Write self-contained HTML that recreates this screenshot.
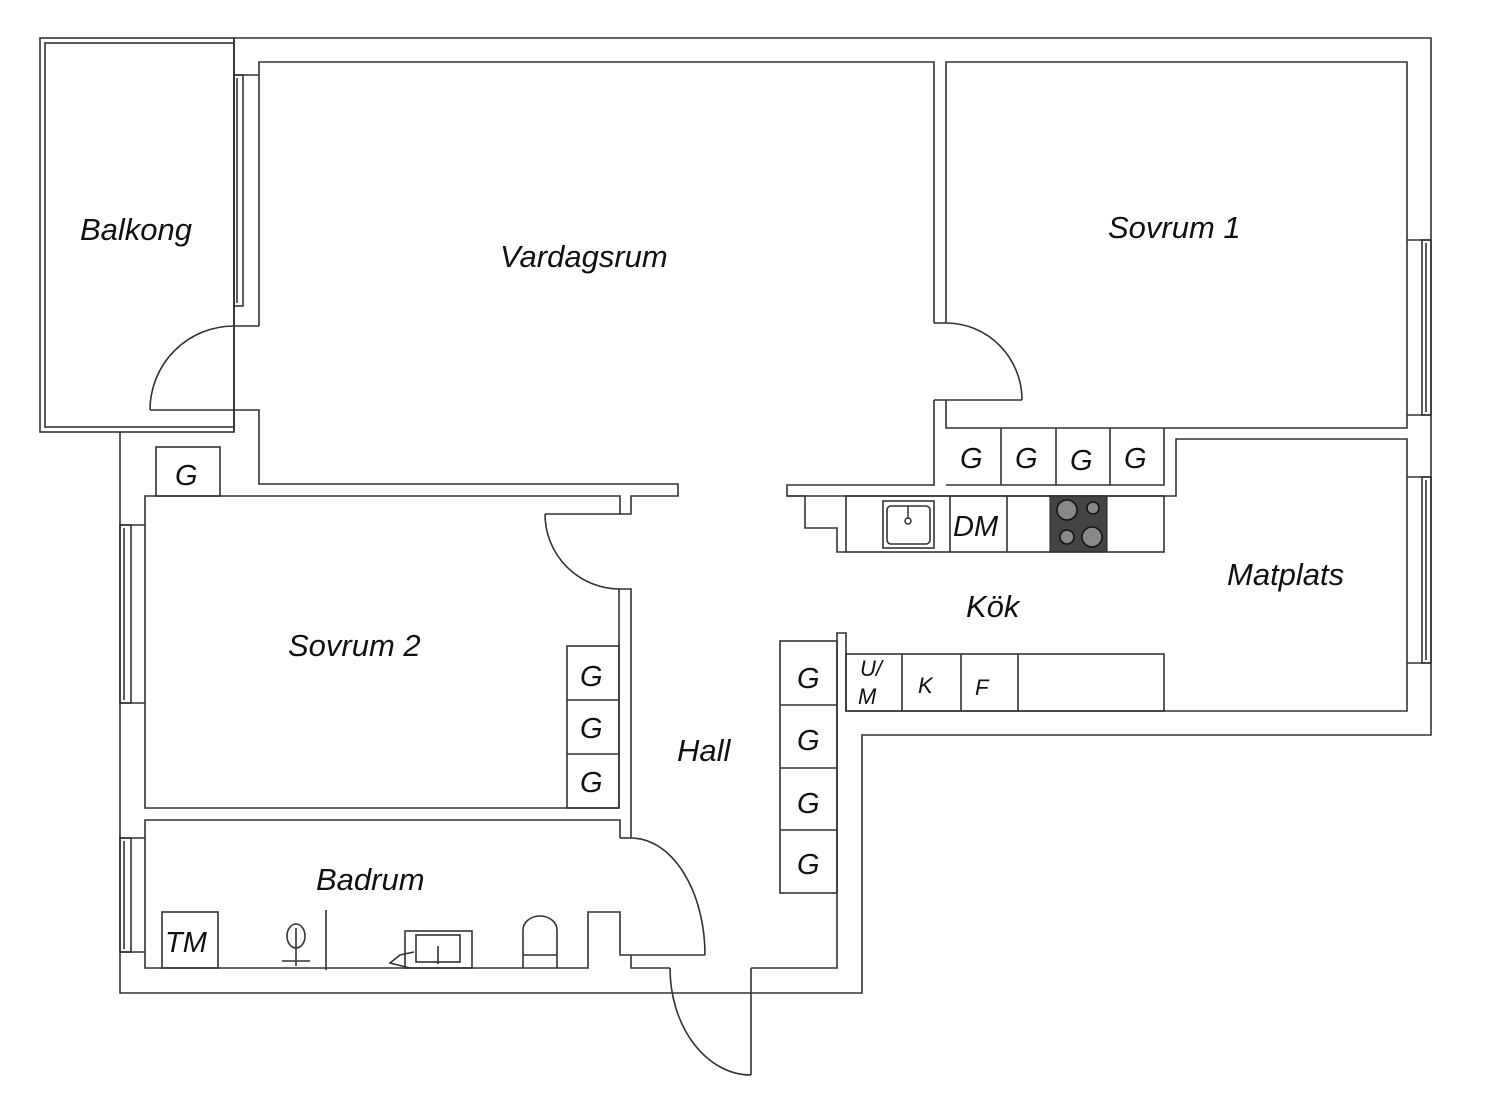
<!DOCTYPE html>
<html><head><meta charset="utf-8"><style>
html,body{margin:0;padding:0;background:#fff;}
svg{display:block}
text{font-family:"Liberation Sans",sans-serif;font-style:italic;fill:#111;}
</style></head><body>
<svg width="1500" height="1094" viewBox="0 0 1500 1094" xmlns="http://www.w3.org/2000/svg">
<g fill="none" stroke="#333" stroke-width="1.6">
<polyline points="234,38 1431,38 1431,735 862,735 862,993 120,993 120,432"/>
<rect x="40" y="38" width="194" height="394"/>
<rect x="45" y="43" width="189" height="384"/>
<line x1="234" y1="38" x2="234" y2="432"/>
<rect x="234" y="75" width="9" height="231"/>
<line x1="237" y1="78" x2="237" y2="303"/>
<polyline points="234,75 259,75"/>
<polyline points="259,326 259,62 934,62 934,323"/>
<polyline points="234,326 259,326"/>
<path d="M234,326 A84,84 0 0 0 150,410"/>
<polyline points="150,410 259,410 259,484 678,484 678,496 631,496 631,514 620,514 620,496 145,496 145,808 619,808"/>
<line x1="545" y1="514" x2="620" y2="514"/>
<path d="M545,514 A75,75 0 0 0 620,589"/>
<polyline points="620,589 631,589 631,838"/>
<polyline points="619,589 619,808"/>
<rect x="156" y="447" width="64" height="49"/>
<rect x="120" y="525" width="11" height="178"/>
<line x1="124" y1="528" x2="124" y2="700"/>
<polyline points="120,525 145,525"/><polyline points="120,703 145,703"/>
<polyline points="620,838 620,820 145,820 145,968 588,968 588,912 620,912 620,955 705,955"/>
<path d="M631,838 A74,117 0 0 1 705,955"/>
<line x1="620" y1="838" x2="631" y2="838"/>
<rect x="120" y="838" width="11" height="114"/>
<line x1="124" y1="841" x2="124" y2="949"/>
<polyline points="120,838 145,838"/><polyline points="120,952 145,952"/>
<polyline points="631,955 631,968 670,968"/>
<path d="M670,968 A81,107 0 0 0 751,1075"/>
<line x1="751" y1="968" x2="751" y2="1075"/>
<polyline points="751,968 837,968 837,633 846,633 846,711 1407,711 1407,439 1176,439 1176,496 787,496 787,485 934,485 934,400"/>
<polyline points="787,496 805,496 805,528 837,528 837,552 846,552"/>
<polyline points="946,323 946,62 1407,62 1407,428 946,428 946,400"/>
<path d="M946,323 A76,77 0 0 1 1022,400"/>
<line x1="934" y1="400" x2="1022" y2="400"/>
<line x1="934" y1="323" x2="946" y2="323"/>
<rect x="1422" y="240" width="9" height="175"/>
<line x1="1426" y1="243" x2="1426" y2="412"/>
<polyline points="1407,240 1431,240"/><polyline points="1407,415 1431,415"/>
<rect x="1422" y="477" width="9" height="186"/>
<line x1="1426" y1="480" x2="1426" y2="660"/>
<polyline points="1407,477 1431,477"/><polyline points="1407,663 1431,663"/>
<polyline points="946,485 1164,485 1164,428"/>
<line x1="1001" y1="428" x2="1001" y2="485"/>
<line x1="1056" y1="428" x2="1056" y2="485"/>
<line x1="1110" y1="428" x2="1110" y2="485"/>
<rect x="846" y="496" width="318" height="56"/>
<line x1="950" y1="496" x2="950" y2="552"/>
<line x1="1007" y1="496" x2="1007" y2="552"/>
<rect x="883" y="501" width="51" height="47"/>
<rect x="887" y="506" width="43" height="38" rx="4"/>
<rect x="846" y="654" width="318" height="57"/>
<line x1="902" y1="654" x2="902" y2="711"/>
<line x1="961" y1="654" x2="961" y2="711"/>
<line x1="1018" y1="654" x2="1018" y2="711"/>
<rect x="780" y="641" width="57" height="252"/>
<line x1="780" y1="705" x2="837" y2="705"/>
<line x1="780" y1="768" x2="837" y2="768"/>
<line x1="780" y1="830" x2="837" y2="830"/>
<rect x="567" y="646" width="52" height="162"/>
<line x1="567" y1="700" x2="619" y2="700"/>
<line x1="567" y1="754" x2="619" y2="754"/>
<rect x="162" y="912" width="56" height="56"/>
<line x1="326" y1="910" x2="326" y2="970"/>
<ellipse cx="296" cy="936" rx="9" ry="12"/>
<line x1="296" y1="928" x2="296" y2="966"/>
<line x1="282" y1="961" x2="310" y2="961"/>
<rect x="405" y="931" width="67" height="37"/>
<rect x="416" y="935" width="44" height="27"/>
<line x1="438" y1="946" x2="438" y2="964"/>
<path d="M410,968 L390,963 L400,955 L414,952"/>
<path d="M523,968 L523,930 A17,14 0 0 1 557,930 L557,968"/>
<line x1="523" y1="955" x2="557" y2="955"/>
</g>
<rect x="1050" y="496" width="57" height="56" fill="#444" stroke="#222"/>
<g fill="#888" stroke="#111" stroke-width="1.5">
<circle cx="1067" cy="510" r="10"/><circle cx="1093" cy="508" r="6"/>
<circle cx="1067" cy="537" r="7"/><circle cx="1092" cy="537" r="10"/>
</g>
<circle cx="908" cy="521" r="3" fill="none" stroke="#333" stroke-width="1.5"/>
<line x1="908" y1="506" x2="908" y2="519" stroke="#333" stroke-width="1.5"/>
<g font-size="31">
<text x="80" y="240">Balkong</text>
<text x="500" y="267">Vardagsrum</text>
<text x="1108" y="238">Sovrum 1</text>
<text x="288" y="656">Sovrum 2</text>
<text x="1227" y="585">Matplats</text>
<text x="966" y="617">Kök</text>
<text x="677" y="761">Hall</text>
<text x="316" y="890">Badrum</text>
<text x="165" y="952" font-size="29">TM</text>
<text x="953" y="536" font-size="29">DM</text>
</g>
<g font-size="29">
<text x="175" y="485">G</text>
<text x="960" y="468">G</text><text x="1015" y="468">G</text><text x="1070" y="470">G</text><text x="1124" y="468">G</text>
<text x="580" y="686">G</text><text x="580" y="738">G</text><text x="580" y="792">G</text>
<text x="797" y="688">G</text><text x="797" y="750">G</text><text x="797" y="813">G</text><text x="797" y="874">G</text>
</g>
<g font-size="22">
<text x="860" y="676">U/</text>
<text x="858" y="704">M</text>
<text x="918" y="693">K</text>
<text x="975" y="695">F</text>
</g>
</svg>
</body></html>
